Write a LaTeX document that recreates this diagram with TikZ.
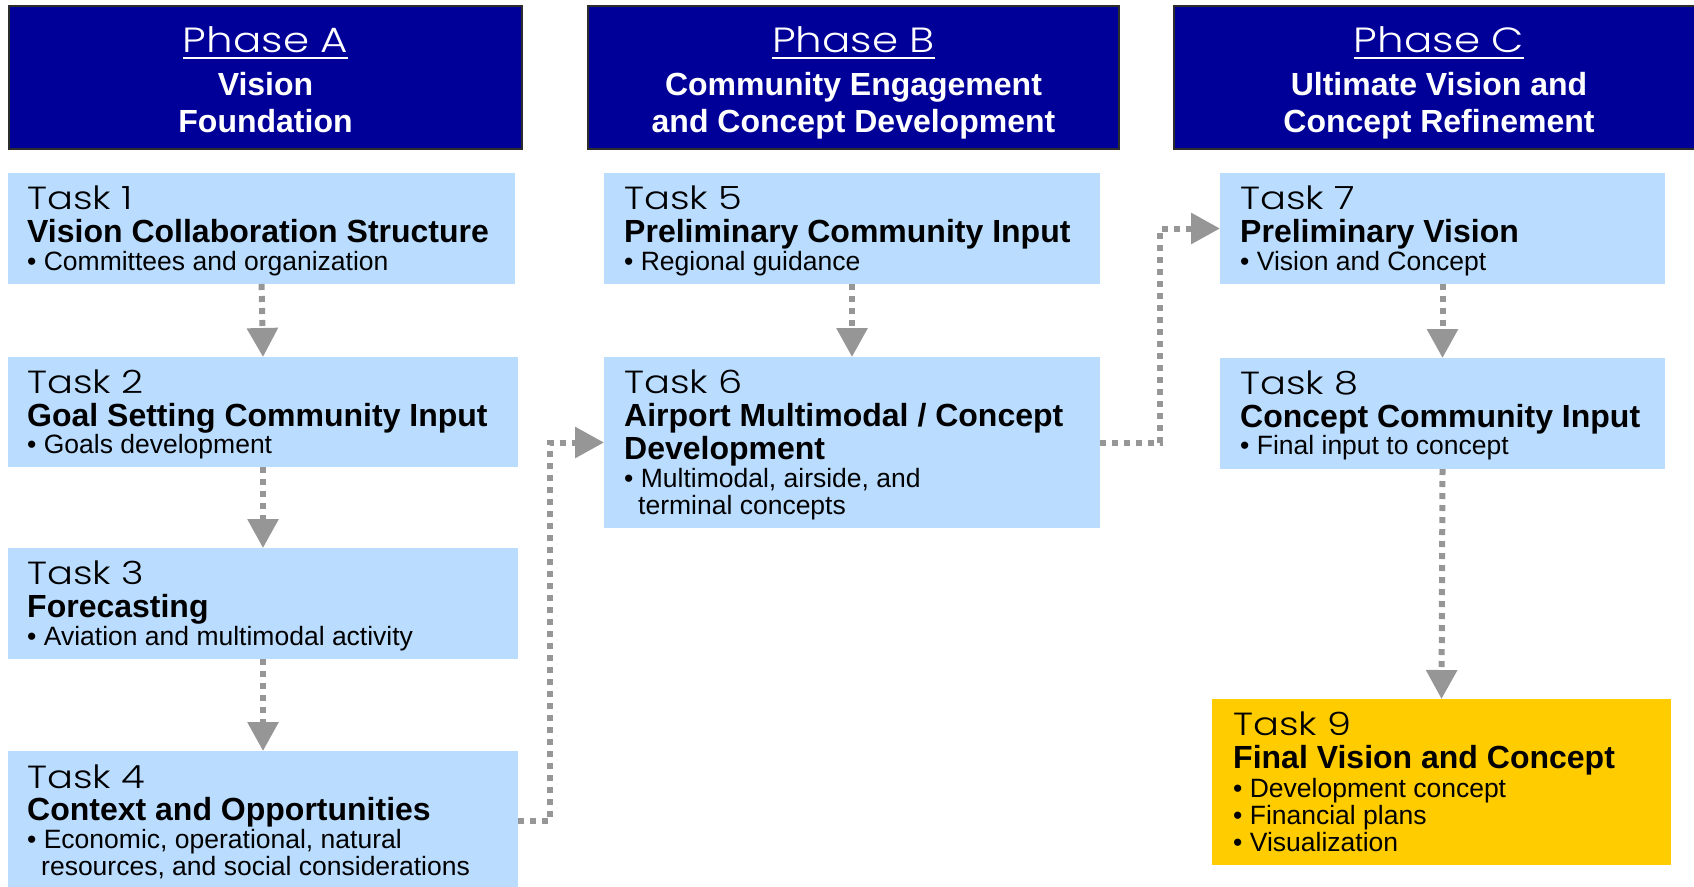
\documentclass[tikz,border=0pt]{standalone}
\usepackage{fontspec}
\setmainfont{Liberation Sans}
\newfontfamily\gothic[FakeStretch=1.2]{Poppins Light}
\usetikzlibrary{arrows.meta,calc}
\definecolor{navy}{RGB}{0,0,153}
\definecolor{lblue}{RGB}{185,220,255}
\definecolor{gold}{RGB}{255,204,0}
\definecolor{arrgray}{RGB}{150,150,150}
\definecolor{hborder}{RGB}{45,45,45}
\begin{document}
\begin{tikzpicture}[x=1pt,y=-1pt,
  phasebox/.style={draw=hborder,line width=1.5pt,fill=navy,inner sep=0,outer sep=0,anchor=north west},
  taskbox/.style={fill=lblue,inner sep=0,outer sep=0,anchor=north west},
  finalbox/.style={fill=gold,inner sep=0,outer sep=0,anchor=north west},
  phasetitle/.style={text=white,font=\gothic\fontsize{35}{40}\selectfont,inner sep=0,anchor=base,text height=26pt,text depth=1pt},
  phaseline/.style={text=white,font=\bfseries\fontsize{32}{37}\selectfont,inner sep=0,anchor=base,text height=24pt,text depth=7pt},
  tasklabel/.style={font=\gothic\fontsize{32}{34}\selectfont,inner sep=0,anchor=base west,text height=23pt,text depth=1pt},
  tasktitle/.style={font=\bfseries\fontsize{32}{34}\selectfont,inner sep=0,anchor=base west,text height=23.5pt,text depth=6.5pt},
  taskbullet/.style={font=\fontsize{26.5}{30}\selectfont,inner sep=0,anchor=base west,text height=20pt,text depth=6pt},
  flow/.style={draw=arrgray,line width=6pt,dash pattern=on 6pt off 6pt,-{Triangle[length=29pt,width=30pt]}}
]
\useasboundingbox (0,0) rectangle (1694,886);

% phase headers
\node[phasebox,minimum width=513,minimum height=143] (pA) at (9,6) {};
\node[phasebox,minimum width=531,minimum height=143] (pB) at (588,6) {};
\node[phasebox,minimum width=530,minimum height=143] (pC) at (1174,6) {};

\node[phasetitle] (pAh) at (265.5,52) {Phase A};
\node[phaseline] (pA1) at (265.5,95) {Vision};
\node[phaseline] (pA2) at (265.5,132) {Foundation};
\node[phasetitle] (pBh) at (853.5,52) {Phase B};
\node[phaseline] (pB1) at (853.5,95) {Community Engagement};
\node[phaseline] (pB2) at (853.5,132) {and Concept Development};
\node[phasetitle] (pCh) at (1439,52) {Phase C};
\node[phaseline] (pC1) at (1439,95) {Ultimate Vision and};
\node[phaseline] (pC2) at (1439,132) {Concept Refinement};
\foreach \h in {pAh,pBh,pCh}
  \draw[white,line width=2.5pt] ([yshift=-6pt]\h.base west) -- ([yshift=-6pt]\h.base east);

% task boxes
\node[taskbox,minimum width=507,minimum height=111] (t1) at (8,173) {};
\node[taskbox,minimum width=510,minimum height=110] (t2) at (8,357) {};
\node[taskbox,minimum width=510,minimum height=111] (t3) at (8,548) {};
\node[taskbox,minimum width=510,minimum height=140] (t4) at (8,751) {};
\node[taskbox,minimum width=496,minimum height=111] (t5) at (604,173) {};
\node[taskbox,minimum width=496,minimum height=171] (t6) at (604,357) {};
\node[taskbox,minimum width=445,minimum height=111] (t7) at (1220,173) {};
\node[taskbox,minimum width=445,minimum height=111] (t8) at (1220,358) {};
\node[finalbox,minimum width=459,minimum height=166] (t9) at (1212,699) {};

% task texts
\node[tasklabel] (t1a) at ($(t1.north west)+(19,36)$) {Task 1};
\node[tasktitle] (t1b) at ($(t1.north west)+(19,69)$) {Vision Collaboration Structure};
\node[taskbullet] (t1c) at ($(t1.north west)+(19,97)$) {• Committees and organization};

\node[tasklabel] (t2a) at ($(t2.north west)+(19,36)$) {Task 2};
\node[tasktitle] (t2b) at ($(t2.north west)+(19,69)$) {Goal Setting Community Input};
\node[taskbullet] (t2c) at ($(t2.north west)+(19,96)$) {• Goals development};

\node[tasklabel] (t3a) at ($(t3.north west)+(19,36)$) {Task 3};
\node[tasktitle] (t3b) at ($(t3.north west)+(19,69)$) {Forecasting};
\node[taskbullet] (t3c) at ($(t3.north west)+(19,97)$) {• Aviation and multimodal activity};

\node[tasklabel] (t4a) at ($(t4.north west)+(19,37)$) {Task 4};
\node[tasktitle] (t4b) at ($(t4.north west)+(19,69)$) {Context and Opportunities};
\node[taskbullet] (t4c) at ($(t4.north west)+(19,97)$) {• Economic, operational, natural};
\node[taskbullet] (t4d) at ($(t4.north west)+(33,124)$) {resources, and social considerations};

\node[tasklabel] (t5a) at ($(t5.north west)+(20,36)$) {Task 5};
\node[tasktitle] (t5b) at ($(t5.north west)+(20,69)$) {Preliminary Community Input};
\node[taskbullet] (t5c) at ($(t5.north west)+(20,97)$) {• Regional guidance};

\node[tasklabel] (t6a) at ($(t6.north west)+(20,36)$) {Task 6};
\node[tasktitle] (t6b) at ($(t6.north west)+(20,69)$) {Airport Multimodal / Concept};
\node[tasktitle] (t6c) at ($(t6.north west)+(20,102)$) {Development};
\node[taskbullet] (t6d) at ($(t6.north west)+(20,130)$) {• Multimodal, airside, and};
\node[taskbullet] (t6e) at ($(t6.north west)+(34,157)$) {terminal concepts};

\node[tasklabel] (t7a) at ($(t7.north west)+(20,36)$) {Task 7};
\node[tasktitle] (t7b) at ($(t7.north west)+(20,69)$) {Preliminary Vision};
\node[taskbullet] (t7c) at ($(t7.north west)+(20,97)$) {• Vision and Concept};

\node[tasklabel] (t8a) at ($(t8.north west)+(20,36)$) {Task 8};
\node[tasktitle] (t8b) at ($(t8.north west)+(20,69)$) {Concept Community Input};
\node[taskbullet] (t8c) at ($(t8.north west)+(20,96)$) {• Final input to concept};

\node[tasklabel] (t9a) at ($(t9.north west)+(21,36)$) {Task 9};
\node[tasktitle] (t9b) at ($(t9.north west)+(21,69)$) {Final Vision and Concept};
\node[taskbullet] (t9c) at ($(t9.north west)+(21,98)$) {• Development concept};
\node[taskbullet] (t9d) at ($(t9.north west)+(21,125)$) {• Financial plans};
\node[taskbullet] (t9e) at ($(t9.north west)+(21,152)$) {• Visualization};

% connectors
\coordinate (k1) at (550,0);
\coordinate (k2) at (1160,0);
\draw[flow] (t1.south) -- (t2.north);
\draw[flow] (t2.south) -- (t3.north);
\draw[flow] (t3.south) -- (t4.north);
\draw[flow] (t5.south) -- (t6.north);
\draw[flow] (t7.south) -- (t8.north);
\draw[flow] (t8.south) -- (t9.north);
\draw[flow] (t4.east) -| (k1 |- t6.west) -- (t6.west);
\draw[flow] (t6.east) -| (k2 |- t7.west) -- (t7.west);
\end{tikzpicture}
\end{document}
